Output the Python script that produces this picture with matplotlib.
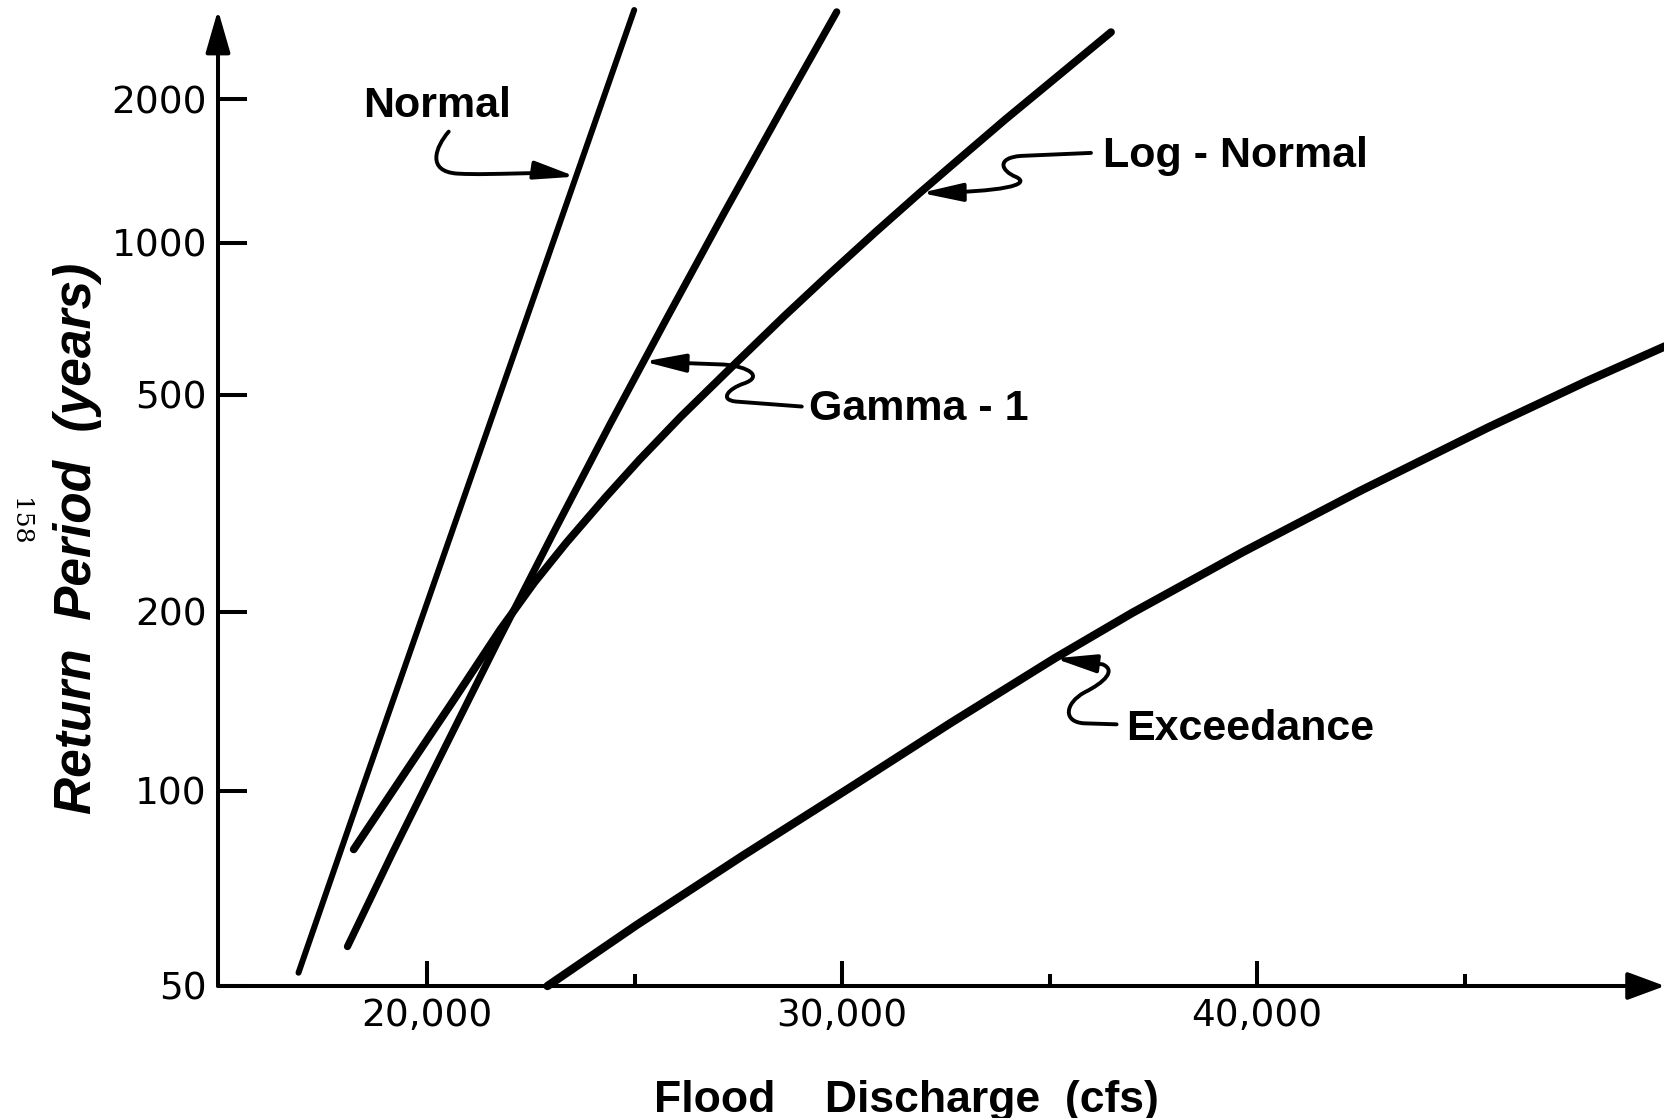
import math
import numpy as np
import matplotlib
matplotlib.use("Agg")
from matplotlib import pyplot as plt
from matplotlib.path import Path
from matplotlib.patches import FancyArrowPatch
from matplotlib.transforms import IdentityTransform

# Flood discharge (cfs) against return period (years)
normal_q = [16900, 18420, 23030, 24990]
normal_t = [52.3, 100, 1000, 3135]

gamma_q = [18080, 19170, 20440, 21730, 23050, 24390, 25770, 27170, 28600, 29870]
gamma_t = [57.2, 79.7, 118, 179, 277, 437, 704, 1157, 1941, 3105]

lognormal_q = [18230, 19430, 20640, 21760, 22580, 23350, 24300, 25120, 26110, 27260,
               28620, 29670, 30800, 31870, 32920, 33940, 35350, 36480]
lognormal_t = [80.6, 106, 141, 186, 225, 265, 321, 377, 454, 558,
               714, 861, 1051, 1267, 1518, 1812, 2303, 2800]

exceedance_q = [22900, 25060, 27620, 30180, 32610, 35120, 36990, 39650, 42490, 45560, 47960, 49830]
exceedance_t = [50, 61.7, 78.9, 101, 129, 166, 199, 255, 330, 433, 532, 621]

y_ticks = [50, 100, 200, 500, 1000, 2000]
y_tick_labels = ["50", "100", "200", "500", "1000", "2000"]
x_ticks = [20000, 30000, 40000]
x_tick_labels = ["20,000", "30,000", "40,000"]
x_minor_ticks = [25000, 35000, 45000]


# return period axis drawn on normal probability paper
_erfc = np.vectorize(math.erfc, otypes=[float])

def exceed_prob(z):
    return 0.5 * _erfc(np.asarray(z, dtype=float) / math.sqrt(2.0))

def period_to_z(t):
    t = np.asarray(t, dtype=float)
    p = 1.0 / np.clip(t, 1.0001, 1e15)
    lo = np.full(p.shape, -9.0)
    hi = np.full(p.shape, 9.0)
    for _ in range(60):
        mid = 0.5 * (lo + hi)
        too_big = exceed_prob(mid) > p
        lo = np.where(too_big, mid, lo)
        hi = np.where(too_big, hi, mid)
    return 0.5 * (lo + hi)

def z_to_period(z):
    return 1.0 / exceed_prob(z)


W, H = 1665, 1118
fig = plt.figure(figsize=(W / 100, H / 100), dpi=100)
ax = fig.add_axes([218 / W, 1 - 986 / H, (W - 218) / W, (986 - 10) / H])
ax.set_yscale("function", functions=(period_to_z, z_to_period))
ax.set_xlim(14960, 49830)
ax.set_ylim(50, 3135)

line_kw = dict(color="black", solid_capstyle="round", solid_joinstyle="round", clip_on=False)
ax.plot(normal_q, normal_t, lw=4.3, **line_kw)
ax.plot(gamma_q, gamma_t, lw=5.2, **line_kw)
ax.plot(lognormal_q, lognormal_t, lw=5.6, **line_kw)
ax.plot(exceedance_q, exceedance_t, lw=6.0, **line_kw)

# axes as arrows
for s in ax.spines.values():
    s.set_visible(False)
ax.annotate("", xy=(0, 1), xytext=(0, 0), xycoords="axes fraction", annotation_clip=False,
            arrowprops=dict(arrowstyle="-|>,head_length=2.6,head_width=0.75", mutation_scale=10,
                            lw=2.9, color="black", shrinkA=0, shrinkB=0))
ax.annotate("", xy=(1, 0), xytext=(0, 0), xycoords="axes fraction", annotation_clip=False,
            arrowprops=dict(arrowstyle="-|>,head_length=2.3,head_width=0.85", mutation_scale=10,
                            lw=2.9, color="black", shrinkA=0, shrinkB=0))

ax.set_yticks(y_ticks, y_tick_labels)
ax.set_xticks(x_ticks, x_tick_labels)
ax.set_xticks(x_minor_ticks, minor=True)
ax.tick_params(axis="y", which="major", direction="in", length=21, width=2.9, labelsize=27, pad=8)
ax.tick_params(axis="x", which="major", direction="in", length=18, width=2.9, labelsize=27, pad=9)
ax.tick_params(axis="x", which="minor", direction="in", length=9, width=2.9)

# curve labels with hand drawn style leader arrows
label_font = dict(fontsize=31, fontweight="bold", family="Liberation Sans", va="baseline")
fig.text(363 / W, 1 - 117 / H, "Normal", **label_font)
fig.text(1103 / W, 1 - 167 / H, "Log - Normal", **label_font)
fig.text(809 / W, 1 - 420 / H, "Gamma - 1", **label_font)
fig.text(1126 / W, 1 - 740 / H, "Exceedance", **label_font)

M, L, C = Path.MOVETO, Path.LINETO, Path.CURVE4
leaders = [
    # (tip on curve, offsets from the tip in pixels: dx right, dy down, path codes)
    ((23580, 1370), [(-127, -45), (-140, -30), (-150, -5), (-118, -3), (-80, -1), (-40, -6), (0, 0)],
     [M, C, C, C, C, C, C]),
    ((31900, 1267), [(170, -40), (100, -37), (75, -35), (80, -22), (95, -16), (112, -8), (80, -1), (0, 0)],
     [M, L, C, C, C, C, C, C]),
    ((25220, 580), [(158, 45), (92, 40), (75, 38), (85, 27), (100, 22), (120, 15), (105, 5), (80, 3), (0, 0)],
     [M, L, C, C, C, C, C, C, L]),
    ((35120, 166), [(62, 66), (30, 65), (8, 64), (10, 45), (30, 34), (50, 24), (62, 12), (48, 6), (0, 0)],
     [M, L, C, C, C, C, C, C, L]),
]
for tip, offsets, codes in leaders:
    tx, ty = ax.transData.transform(tip)
    verts = [(tx + dx, ty - dy) for dx, dy in offsets]
    arrow = FancyArrowPatch(path=Path(verts, codes), arrowstyle="-|>,head_length=2.5,head_width=0.55",
                            mutation_scale=10, lw=2.8, color="black", transform=IdentityTransform())
    fig.add_artist(arrow)

fig.text(78 / W, 1 - 538 / H, "Return  Period  (years)", rotation=90, fontsize=37, fontweight="bold",
         fontstyle="italic", family="Liberation Sans", ha="center", va="center")
fig.text(906 / W, 1 - 1112 / H, "Flood    Discharge  (cfs)", fontsize=32, fontweight="bold",
         family="Liberation Sans", ha="center", va="baseline")
fig.text(20 / W, 1 - 522 / H, "158", rotation=-90, fontsize=18, family="DejaVu Serif",
         ha="center", va="center")

fig.savefig("out.png", dpi=100)
